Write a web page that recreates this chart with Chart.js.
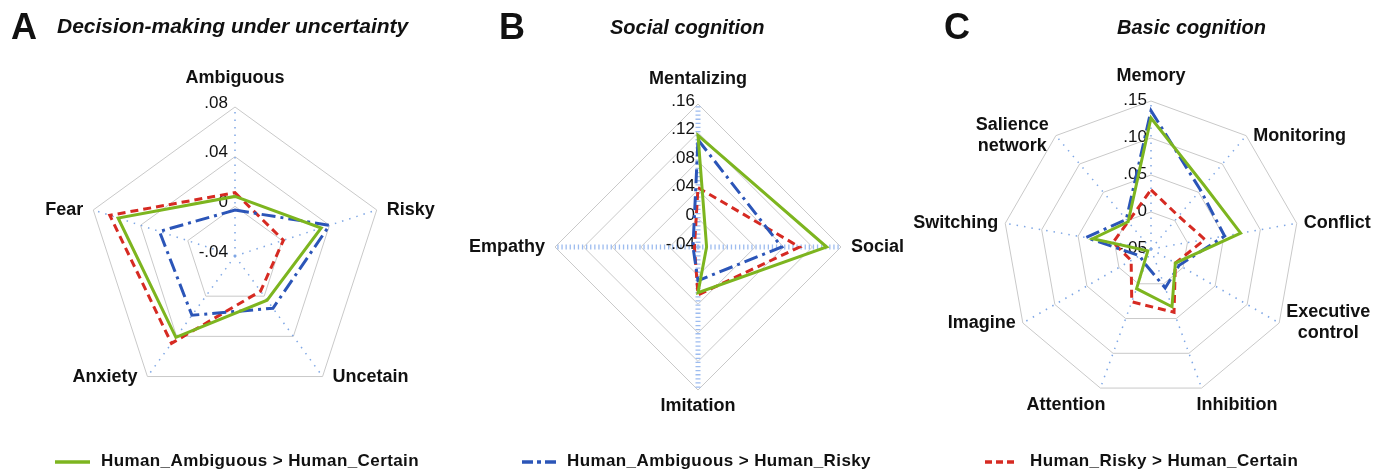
<!DOCTYPE html>
<html>
<head>
<meta charset="utf-8">
<script src="https://cdn.jsdelivr.net/npm/chart.js@4.4.0/dist/chart.umd.min.js"></script>
<style>
  html,body{margin:0;padding:0;background:#fff;}
  #wrap{position:relative;width:1389px;height:470px;overflow:hidden;background:#fff;font-family:"Liberation Sans",Arial,sans-serif;color:#111;}
  canvas{position:absolute;left:0;top:0;}
  .letter{position:absolute;font-weight:bold;font-size:36px;line-height:36px;top:9px;}
  .title{position:absolute;font-weight:bold;font-style:italic;font-size:20px;line-height:20px;top:17px;white-space:nowrap;}
  .leg{position:absolute;top:452px;font-weight:bold;font-size:17px;line-height:17px;letter-spacing:0.4px;white-space:nowrap;}
  .legline{position:absolute;top:458px;}
</style>
</head>
<body>
<div id="wrap">
  <canvas id="cA" width="1389" height="470"></canvas>
  <canvas id="cB" width="1389" height="470"></canvas>
  <canvas id="cC" width="1389" height="470"></canvas>

  <div class="letter" style="left:11px">A</div>
  <div class="title" style="left:57px;font-size:21px;top:16px">Decision-making under uncertainty</div>
  <div class="letter" style="left:499px">B</div>
  <div class="title" style="left:610px">Social cognition</div>
  <div class="letter" style="left:944px">C</div>
  <div class="title" style="left:1117px">Basic cognition</div>

  <svg class="legline" style="left:55px" width="36" height="8"><line x1="0" y1="4" x2="35" y2="4" stroke="#7db51f" stroke-width="3.5"/></svg>
  <div class="leg" style="left:101px">Human_Ambiguous &gt; Human_Certain</div>
  <svg class="legline" style="left:522px" width="36" height="8"><line x1="0" y1="4" x2="35" y2="4" stroke="#2b55b8" stroke-width="3.5" stroke-dasharray="11 4 4 4"/></svg>
  <div class="leg" style="left:567px">Human_Ambiguous &gt; Human_Risky</div>
  <svg class="legline" style="left:985px" width="36" height="8"><line x1="0" y1="4" x2="33" y2="4" stroke="#d62a22" stroke-width="3.5" stroke-dasharray="7 4"/></svg>
  <div class="leg" style="left:1030px">Human_Risky &gt; Human_Certain</div>
</div>
<script>
// ---------- DATA ----------
const seriesNames = ['Human_Ambiguous > Human_Certain', 'Human_Ambiguous > Human_Risky', 'Human_Risky > Human_Certain'];

// Panel A: Decision-making under uncertainty
const categoriesA = ['Ambiguous', 'Risky', 'Uncetain', 'Anxiety', 'Fear'];
const greenA = [0.008, 0.033, 0.004, 0.041, 0.059];
const blueA  = [-0.003, 0.040, 0.012, 0.019, 0.024];
const redA   = [0.011, 0.001, -0.005, 0.047, 0.066];
const tickLabelsA = ['-.04', '0', '.04', '.08'];
const tickValuesA = [-0.04, 0, 0.04, 0.08];

// Panel B: Social cognition
const categoriesB = ['Mentalizing', 'Social', 'Imitation', 'Empathy'];
const greenB = [0.116, 0.140, 0.024, -0.052];
const blueB  = [0.110, 0.077, 0.007, -0.033];
const redB   = [0.043, 0.102, 0.027, -0.035];
const tickLabelsB = ['-.04', '0', '.04', '.08', '.12', '.16'];
const tickValuesB = [-0.04, 0, 0.04, 0.08, 0.12, 0.16];

// Panel C: Basic cognition
const categoriesC = ['Memory', 'Monitoring', 'Conflict', ['Executive', 'control'], 'Inhibition', 'Attention', 'Imagine', 'Switching', ['Salience', 'network']];
const greenC = [0.127, 0.062, 0.073, -0.012, 0.033, 0.007, -0.045, 0.030, -0.002];
const blueC  = [0.137, 0.054, 0.051, -0.006, 0.006, -0.028, -0.032, 0.039, 0.002];
const redC   = [0.030, 0.008, 0.024, -0.012, 0.041, 0.026, -0.019, 0.002, -0.002];
const tickLabelsC = ['-.05', '0', '.05', '.10', '.15'];
const tickValuesC = [-0.05, 0, 0.05, 0.10, 0.15];

// ---------- STYLE ----------
const GREEN = '#7db51f', BLUE = '#2b55b8', RED = '#d62a22';
const FONT = '"Liberation Sans", Arial, sans-serif';

// plugin: tick labels to the left of the vertical axis + axis (point) labels, positioned from the scale
const axisText = {
  id: 'axisText',
  beforeDatasetsDraw(chart, args, o) {
    const s = chart.scales.r, ctx = chart.ctx;
    ctx.save();
    ctx.font = '17px ' + FONT;
    ctx.fillStyle = '#111';
    ctx.textAlign = 'right';
    ctx.textBaseline = 'middle';
    o.tickValues.forEach((v, i) => {
      const d = s.getDistanceFromCenterForValue(v);
      ctx.fillText(o.tickLabels[i], s.xCenter - o.tickDx, s.yCenter - d - o.tickDy);
    });
    ctx.restore();
  },
  afterDraw(chart, args, o) {
    const s = chart.scales.r, ctx = chart.ctx;
    ctx.save();
    ctx.font = 'bold 18px ' + FONT;
    ctx.fillStyle = '#111';
    ctx.textAlign = 'center';
    ctx.textBaseline = 'middle';
    const R = s.drawingArea, lh = 21;
    chart.data.labels.forEach((lab, i) => {
      const lines = Array.isArray(lab) ? lab : [lab];
      const p = s.getPointPosition(i, R);
      let deg = (s.getIndexAngle(i) * 180 / Math.PI) % 360;
      if (deg < 0) deg += 360;
      const bw = Math.max(...lines.map(l => ctx.measureText(l).width));
      const bh = lh * lines.length;
      let cx, top;
      if (deg < 5 || deg > 355) { cx = p.x; top = p.y - o.padTop - bh; }
      else if (Math.abs(deg - 180) < 5) { cx = p.x; top = p.y + o.padBottom; }
      else if (deg < 180) {
        if (deg >= 150) { cx = p.x - o.belowInset + bw / 2; top = p.y + o.belowDy; }
        else { cx = p.x + o.padSide + bw / 2; top = p.y - bh / 2; }
      } else {
        if (deg <= 210) { cx = p.x + o.belowInset - bw / 2; top = p.y + o.belowDy; }
        else { cx = p.x - o.padSide - bw / 2; top = p.y - bh / 2; }
      }
      lines.forEach((l, k) => ctx.fillText(l, cx, top + lh * (k + 0.5)));
    });
    ctx.restore();
  }
};

function makeRadar(id, labels, g, b, r, min, max, step, tickLabels, tickValues, pad, angleStyle, textOpts) {
  return new Chart(document.getElementById(id), {
    type: 'radar',
    data: {
      labels: labels,
      datasets: [
        { label: seriesNames[0], data: g, borderColor: GREEN, borderWidth: 3, borderDash: [], fill: false, pointRadius: 0, backgroundColor: 'transparent' },
        { label: seriesNames[1], data: b, borderColor: BLUE, borderWidth: 3, borderDash: [14, 5, 3, 5], fill: false, pointRadius: 0, backgroundColor: 'transparent' },
        { label: seriesNames[2], data: r, borderColor: RED, borderWidth: 3, borderDash: [8, 5], fill: false, pointRadius: 0, backgroundColor: 'transparent' }
      ]
    },
    options: {
      responsive: false,
      animation: false,
      events: [],
      layout: { padding: pad },
      plugins: {
        legend: { display: false },
        title: { display: false },
        tooltip: { enabled: false },
        axisText: Object.assign({ tickLabels: tickLabels, tickValues: tickValues }, textOpts)
      },
      elements: { line: { tension: 0, borderJoinStyle: 'miter' } },
      scales: {
        r: {
          min: min, max: max,
          beginAtZero: false,
          ticks: { display: false, stepSize: step },
          pointLabels: { display: false },
          grid: { color: '#c9c9c9', lineWidth: 1, circular: false },
          angleLines: angleStyle
        }
      }
    },
    plugins: [axisText]
  });
}

// Panel A: center (235,256), radius 149
makeRadar('cA', categoriesA, greenA, blueA, redA, -0.04, 0.08, 0.04, tickLabelsA, tickValuesA,
  { left: 86, top: 107, right: 1005, bottom: 65 },
  { display: true, color: '#7fa7e5', lineWidth: 1.5, borderDash: [1.5, 6] },
  { tickDx: 7, tickDy: 4, padTop: 18, padBottom: 8, padSide: 10, belowInset: 5, belowDy: 6 });

// Panel B: center (698,247), radius 143
makeRadar('cB', categoriesB, greenB, blueB, redB, -0.04, 0.16, 0.04, tickLabelsB, tickValuesB,
  { left: 555, top: 104, right: 548, bottom: 80 },
  { display: true, color: '#9dbcef', lineWidth: 5, borderDash: [1.3, 2.8] },
  { tickDx: 3, tickDy: 3, padTop: 14, padBottom: 6, padSide: 10, belowInset: 5, belowDy: 6 });

// Panel C: center (1151,249), radius 148
makeRadar('cC', categoriesC, greenC, blueC, redC, -0.05, 0.15, 0.05, tickLabelsC, tickValuesC,
  { left: 1003, top: 101, right: 90, bottom: 73 },
  { display: true, color: '#7fa7e5', lineWidth: 1.5, borderDash: [1.5, 6] },
  { tickDx: 4, tickDy: 1, padTop: 14, padBottom: 6, padSide: 7, belowInset: 5, belowDy: 6 });
</script>
</body>
</html>
